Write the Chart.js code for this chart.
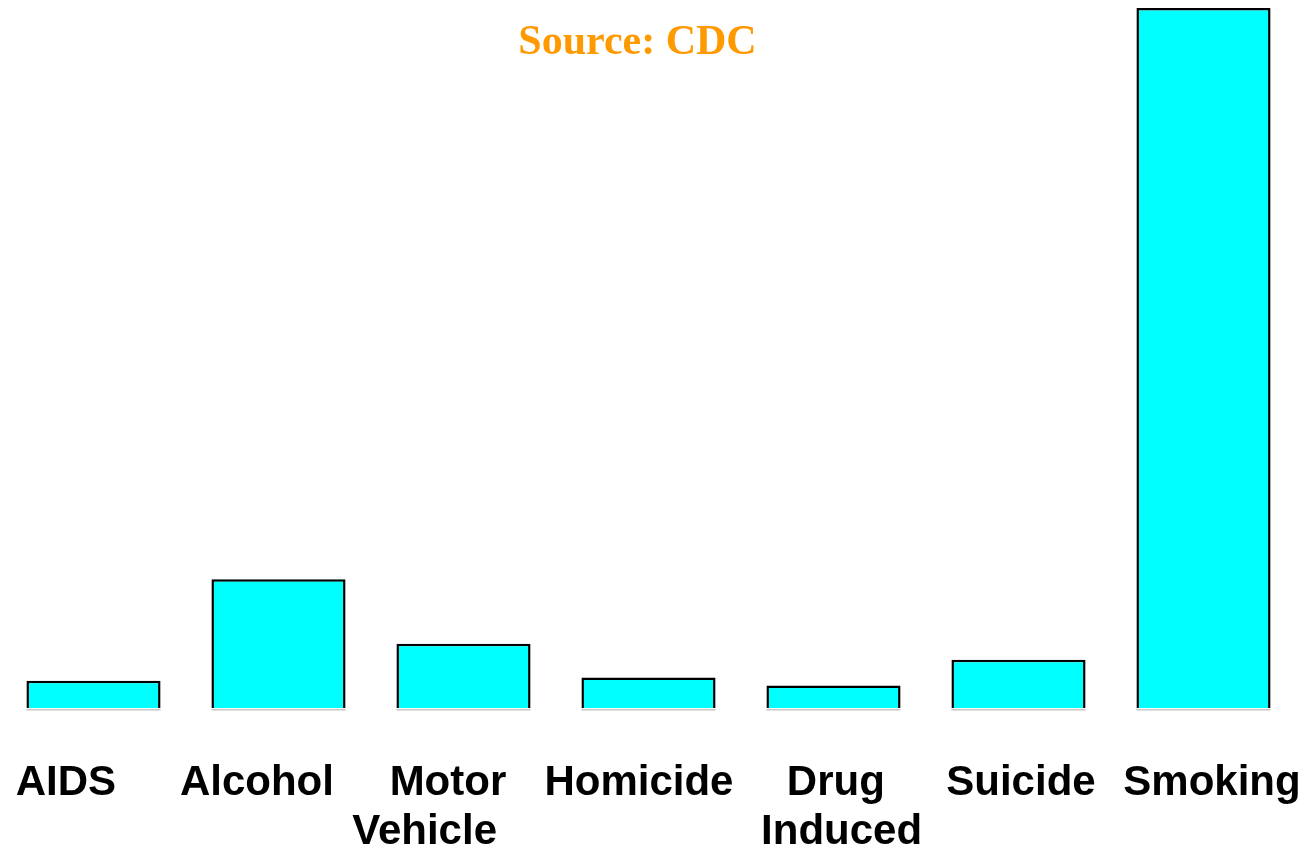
<!DOCTYPE html>
<html>
<head>
<meta charset="utf-8">
<script src="https://cdn.jsdelivr.net/npm/chart.js@4.4.1/dist/chart.umd.min.js"></script>
<style>
  body { margin: 0; background: #fff; }
</style>
</head>
<body>
<canvas id="mycanvas" width="1305" height="853"></canvas>
<script>
// annual deaths, thousands
var causes = ["AIDS", "Alcohol", ["Motor", "Vehicle    "], "Homicide", [" Drug", "  Induced"], "Suicide", "Smoking"];
var deaths = [17, 80, 40, 19, 14, 30, 435];
var sourceText = "Source: CDC";

// thin grey rule under each bar
var barBase = {
  id: 'barBase',
  afterDatasetsDraw: function(chart) {
    var ctx = chart.ctx;
    ctx.save();
    ctx.strokeStyle = "#c8c8c8";
    ctx.lineWidth = 1.5;
    chart.getDatasetMeta(0).data.forEach(function(bar) {
      ctx.beginPath();
      ctx.moveTo(bar.x - bar.width / 2, bar.base + 1.7);
      ctx.lineTo(bar.x + bar.width / 2, bar.base + 1.7);
      ctx.stroke();
    });
    ctx.restore();
  }
};

var sourceLabel = {
  id: 'sourceLabel',
  afterDraw: function(chart) {
    var ctx = chart.ctx;
    ctx.save();
    ctx.font = "bold 42px 'Liberation Serif', 'Times New Roman', serif";
    ctx.fillStyle = "#FF9900";
    ctx.textAlign = "center";
    ctx.textBaseline = "alphabetic";
    ctx.fillText(sourceText, chart.width / 2 - 15, 54);
    ctx.restore();
  }
};

var chartdata = {
  labels: causes,
  datasets: [{
    data: deaths,
    backgroundColor: "#00FFFF",
    borderColor: "#000000",
    borderWidth: 2.5,
    borderSkipped: 'bottom',
    barPercentage: 0.725,
    categoryPercentage: 1.0
  }]
};

var ctx = document.getElementById("mycanvas");

var BarGraph = new Chart(ctx, {
  type: 'bar',
  data: chartdata,
  plugins: [barBase, sourceLabel],
  options: {
    responsive: false,
    animation: false,
    layout: { padding: { left: 1, right: 9, top: 0, bottom: 0 } },
    plugins: {
      legend: { display: false },
      title: { display: false },
      tooltip: { enabled: false }
    },
    scales: {
      x: { display: false },
      // label row, spaced a little differently from the bars
      x2: {
        type: 'linear',
        position: 'bottom',
        offset: false,
        min: -0.34,
        max: 6.44,
        afterBuildTicks: function(scale) {
          scale.ticks = causes.map(function(c, i) { return { value: i }; });
        },
        afterFit: function(scale) {
          scale.height = 145;
          scale.paddingLeft = 0;
          scale.paddingRight = 0;
        },
        grid: { display: false, drawTicks: false, offset: false },
        border: { display: false },
        ticks: {
          autoSkip: false,
          maxRotation: 0,
          padding: 51,
          color: "#000000",
          font: { family: "'Liberation Sans', Arial, sans-serif", size: 42, weight: 'bold', lineHeight: 1.17 },
          callback: function(value) { return causes[value]; }
        }
      },
      y: {
        display: false,
        min: 0,
        max: 440
      }
    }
  }
});
</script>
</body>
</html>
